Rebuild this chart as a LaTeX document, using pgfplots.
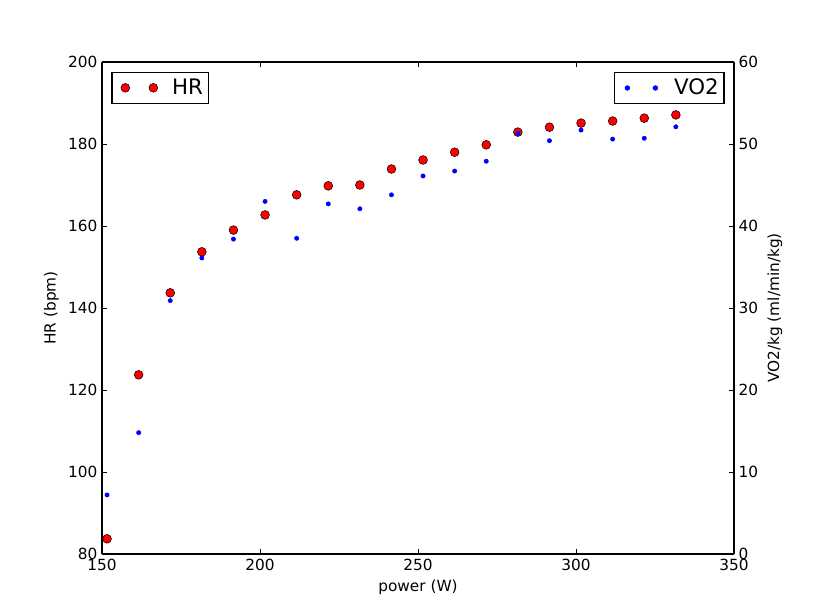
\documentclass[border=0pt]{standalone}
\usepackage{pgfplots}
\pgfplotsset{compat=1.18}
\usepackage{fontspec}
\setmainfont{DejaVu Sans}

\pgfplotstableread{
p     hr     vo
151.6 83.7   7.2
161.6 123.7  14.8
171.6 143.7  30.9
181.6 153.7  36.1
191.6 159.0  38.4
201.6 162.7  43.0
211.6 167.6  38.5
221.6 169.8  42.7
231.6 170.0  42.1
241.6 173.9  43.8
251.6 176.1  46.1
261.6 178.0  46.7
271.6 179.8  47.9
281.6 182.9  51.3
291.6 184.1  50.4
301.6 185.1  51.7
311.6 185.6  50.6
321.6 186.3  50.7
331.6 187.1  52.1
}\data

\pgfplotsset{
  base/.style={
    scale only axis, width=474pt, height=369pt,
    xmin=150, xmax=350,
    tick align=inside,
    major tick length=4pt,
    axis line style={line width=0.8pt},
    every tick/.style={black, line width=0.6pt},
    tick label style={font=\fontsize{11.5}{13}\selectfont},
    label style={font=\fontsize{11.5}{13}\selectfont},
    /pgf/number format/assume math mode=true,
    legend style={font=\fontsize{16}{18}\selectfont, draw=black, line width=0.8pt,
      inner xsep=2pt, inner ysep=3pt, cells={anchor=west}},
    legend image code/.code={
      \path[draw=none] (-8pt,0pt) -- (33pt,0pt);
      \path[only marks] plot coordinates {(0pt,0pt) (21pt,0pt)};},
  },
}

\begin{document}
\begin{tikzpicture}
\begin{axis}[base,
  ymin=80, ymax=200, ytick={80,100,...,200},
  xtick={150,200,...,350},
  axis y line*=left,
  xtick pos=both,
  xlabel={power (W)}, ylabel={HR (bpm)},
  legend style={at={(0.015,0.98)}, anchor=north west},
]
\addplot[only marks, mark=*, mark size=3.3pt, mark options={fill=red, draw=black, line width=0.4pt}]
  table[x=p, y=hr] {\data};
\addlegendentry{HR}
\end{axis}
\begin{axis}[base,
  ymin=0, ymax=60, ytick={0,10,...,60},
  axis y line*=right, axis x line=none,
  ylabel={VO2/kg (ml/min/kg)},
  legend style={at={(0.985,0.98)}, anchor=north east},
]
\addplot[only marks, mark=*, mark size=1.6pt, mark options={fill=blue, draw=blue}]
  table[x=p, y=vo] {\data};
\addlegendentry{VO2}
\end{axis}
\path[use as bounding box] (-76.5pt,-45.75pt) rectangle (534.75pt,415.5pt);
\end{tikzpicture}
\end{document}
